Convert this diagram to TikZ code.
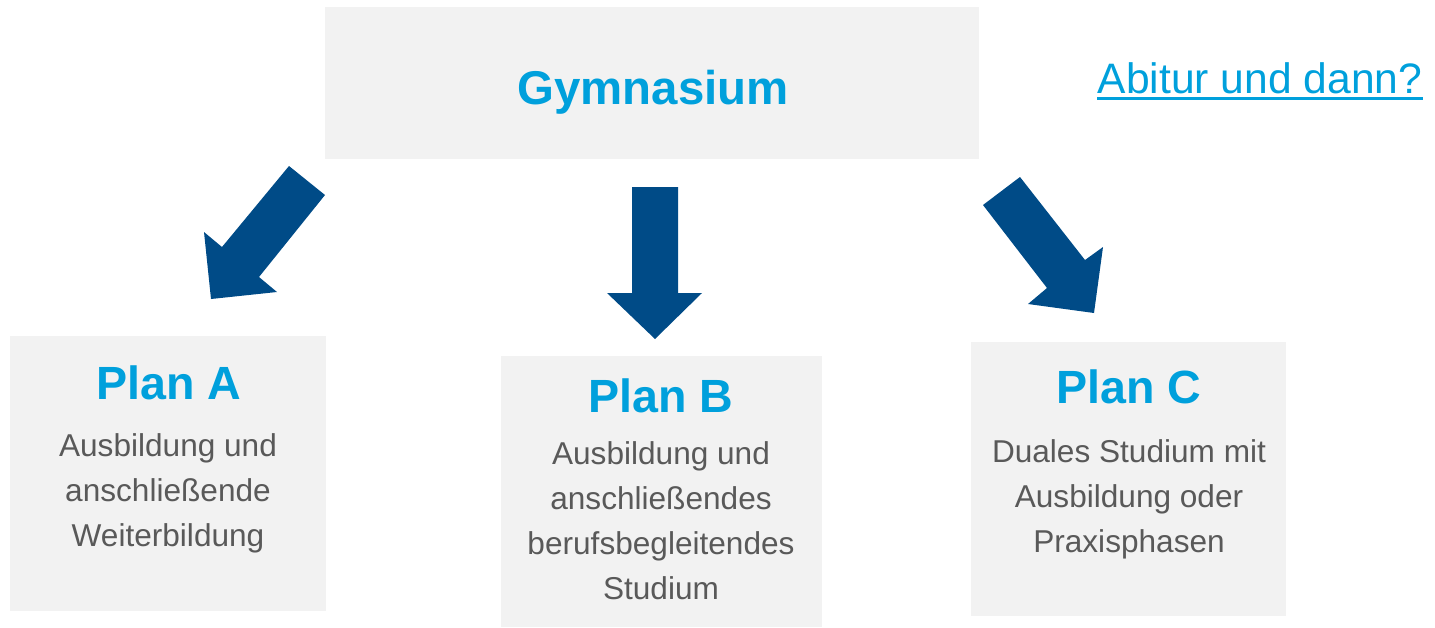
\documentclass[tikz,border=0pt]{standalone}
\usepackage{fontspec}
\setmainfont{Liberation Sans}
\definecolor{boxgray}{HTML}{F2F2F2}
\definecolor{titleblue}{RGB}{0,160,220}
\definecolor{arrowblue}{RGB}{0,75,135}
\definecolor{bodygray}{HTML}{595959}
\begin{document}
\begin{tikzpicture}[x=0.5pt,y=-0.5pt,
  panel/.style={fill=boxgray,draw=none},
  bigtitle/.style={text=titleblue,font=\fontsize{23.3}{27}\selectfont\bfseries,anchor=base,inner sep=0pt},
  bodytext/.style={text=bodygray,font=\fontsize{15.8}{22.5}\selectfont,align=center,inner sep=0pt},
  bigarrow/.style={fill=arrowblue,draw=none}]
\useasboundingbox (0,0) rectangle (1435,627);
% boxes
\path[panel] (325,7) rectangle (979,159);
\path[panel] (10,336) rectangle (326,611);
\path[panel] (501,356) rectangle (822,627);
\path[panel] (971,342) rectangle (1286,616);
% top
\node[bigtitle,font=\fontsize{23.7}{28}\selectfont\bfseries] (gym) at (653,104) {Gymnasium};
\node[text=titleblue,font=\fontsize{21.3}{25}\selectfont,anchor=base,inner sep=0pt] (abi) at (1260,93) {Abitur und dann?};
\draw[titleblue,line width=1.75pt] ([yshift=-2.75pt]abi.base west) -- ([yshift=-2.75pt]abi.base east);
% plans
\node[bigtitle] (pa) at (169,399) {Plan A};
\node[bodytext] (ta) at (168,493) {Ausbildung und\\anschließende\\Weiterbildung};
\node[bigtitle] (pb) at (661,412) {Plan B};
\node[bodytext] (tb) at (661,521) {Ausbildung und\\anschließendes\\berufsbegleitendes\\Studium};
\node[bigtitle] (pc) at (1129,403) {Plan C};
\node[bodytext] (tc) at (1129,499) {Duales Studium mit\\Ausbildung oder\\Praxisphasen};
% arrows
\path[bigarrow] (289,166) -- (325,195) -- (259,277) -- (277,292) -- (211,299) -- (204,232) -- (222,247) -- cycle;
\path[bigarrow] (632,187) -- (678,187) -- (678,293) -- (702,293) -- (655,339) -- (607,293) -- (632,293) -- cycle;
\path[bigarrow] (983,205) -- (1020,177) -- (1085,260) -- (1103,247) -- (1094,313) -- (1028,304) -- (1047,288) -- cycle;
\end{tikzpicture}
\end{document}
